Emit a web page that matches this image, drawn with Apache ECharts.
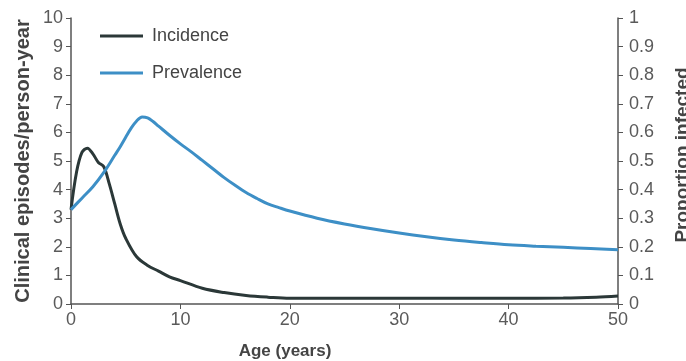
<!DOCTYPE html>
<html>
<head>
<meta charset="utf-8">
<script src="https://cdn.jsdelivr.net/npm/echarts@6/dist/echarts.min.js"></script>
<style>html,body{margin:0;padding:0;background:#fff}#c{width:686px;height:361px}</style>
</head>
<body>
<div id="c"></div>
<script>
var incidenceAges = [0, 0.5, 1.0, 1.5, 2.0, 2.5, 3.0, 3.5, 4.0, 4.5, 5.0, 6.0, 7.0, 8.0, 9.0, 10, 12, 14, 16, 18, 20, 25, 30, 35, 40, 45, 48, 50];
var incidenceValues = [3.3, 4.6, 5.3, 5.45, 5.25, 4.95, 4.8, 4.2, 3.5, 2.8, 2.3, 1.65, 1.35, 1.15, 0.95, 0.82, 0.55, 0.4, 0.3, 0.24, 0.2, 0.2, 0.2, 0.2, 0.2, 0.21, 0.24, 0.28];
var prevalenceAges = [0, 1, 2, 3, 4, 4.5, 5, 5.5, 6, 6.5, 7, 7.5, 8, 9, 10, 11, 12, 13, 14, 15, 16, 17, 18, 19, 20, 22.5, 25, 27.5, 30, 32.5, 35, 37.5, 40, 42.5, 45, 47.5, 50];
var prevalenceValues = [0.33, 0.37, 0.41, 0.46, 0.52, 0.55, 0.583, 0.615, 0.64, 0.654, 0.651, 0.638, 0.622, 0.59, 0.56, 0.532, 0.502, 0.472, 0.442, 0.415, 0.39, 0.369, 0.35, 0.337, 0.325, 0.3, 0.28, 0.263, 0.248, 0.235, 0.224, 0.215, 0.207, 0.202, 0.198, 0.194, 0.19];
var seriesNames = ['Incidence', 'Prevalence'];
var xTitle = 'Age (years)';
var yLeftTitle = 'Clinical episodes/person-year';
var yRightTitle = 'Proportion infected';

function pairs(xs, ys) { return xs.map(function (x, i) { return [x, ys[i]]; }); }

var axisColor = '#555';
var FONT = 'Liberation Sans, Arial, sans-serif';
var labelStyle = { color: '#5a5a5a', fontSize: 18, fontFamily: FONT };

var chart = echarts.init(document.getElementById('c'));
chart.setOption({
  animation: false,
  grid: { left: 71, right: 68, top: 18, bottom: 57 },
  legend: {
    orient: 'vertical', left: 95, top: 22, itemWidth: 43, itemHeight: 3, itemGap: 19,
    icon: 'rect',
    textStyle: { color: '#444', fontSize: 18, fontFamily: FONT, padding: [0, 0, 0, 4] },
    data: seriesNames
  },
  xAxis: {
    type: 'value', min: 0, max: 50, interval: 10,
    axisLine: { lineStyle: { color: axisColor, width: 1.5 } },
    axisTick: { show: true, length: 5, lineStyle: { color: axisColor } },
    axisLabel: Object.assign({ margin: 7 }, labelStyle),
    splitLine: { show: false }
  },
  yAxis: [{
    type: 'value', min: 0, max: 10, interval: 1,
    axisLine: { show: true, lineStyle: { color: axisColor, width: 1.5 } },
    axisTick: { show: true, length: 5, lineStyle: { color: axisColor } },
    axisLabel: Object.assign({ margin: 8 }, labelStyle),
    splitLine: { show: false }
  }, {
    type: 'value', min: 0, max: 1, interval: 0.1, position: 'right',
    axisLine: { show: true, lineStyle: { color: axisColor, width: 1.5 } },
    axisTick: { show: true, length: 5, lineStyle: { color: axisColor } },
    axisLabel: Object.assign({ margin: 11 }, labelStyle),
    splitLine: { show: false }
  }],
  graphic: [{
    type: 'text', x: 23, y: 161, rotation: Math.PI / 2,
    style: { text: yLeftTitle, fill: '#444', font: 'bold 20px ' + FONT, align: 'center', verticalAlign: 'middle' }
  }, {
    type: 'text', x: 683, y: 155, rotation: Math.PI / 2,
    style: { text: yRightTitle, fill: '#444', font: 'bold 19px ' + FONT, align: 'center', verticalAlign: 'middle' }
  }, {
    type: 'text', x: 285, y: 351,
    style: { text: xTitle, fill: '#444', font: 'bold 17px ' + FONT, align: 'center', verticalAlign: 'middle' }
  }],
  series: [{
    name: seriesNames[0], type: 'line', yAxisIndex: 0, smooth: 0.35, symbol: 'none',
    lineStyle: { color: '#2b3838', width: 3 }, itemStyle: { color: '#2b3838' },
    data: pairs(incidenceAges, incidenceValues)
  }, {
    name: seriesNames[1], type: 'line', yAxisIndex: 1, smooth: 0.35, symbol: 'none',
    lineStyle: { color: '#3d8fc6', width: 3 }, itemStyle: { color: '#3d8fc6' },
    data: pairs(prevalenceAges, prevalenceValues)
  }]
});
</script>
</body>
</html>
